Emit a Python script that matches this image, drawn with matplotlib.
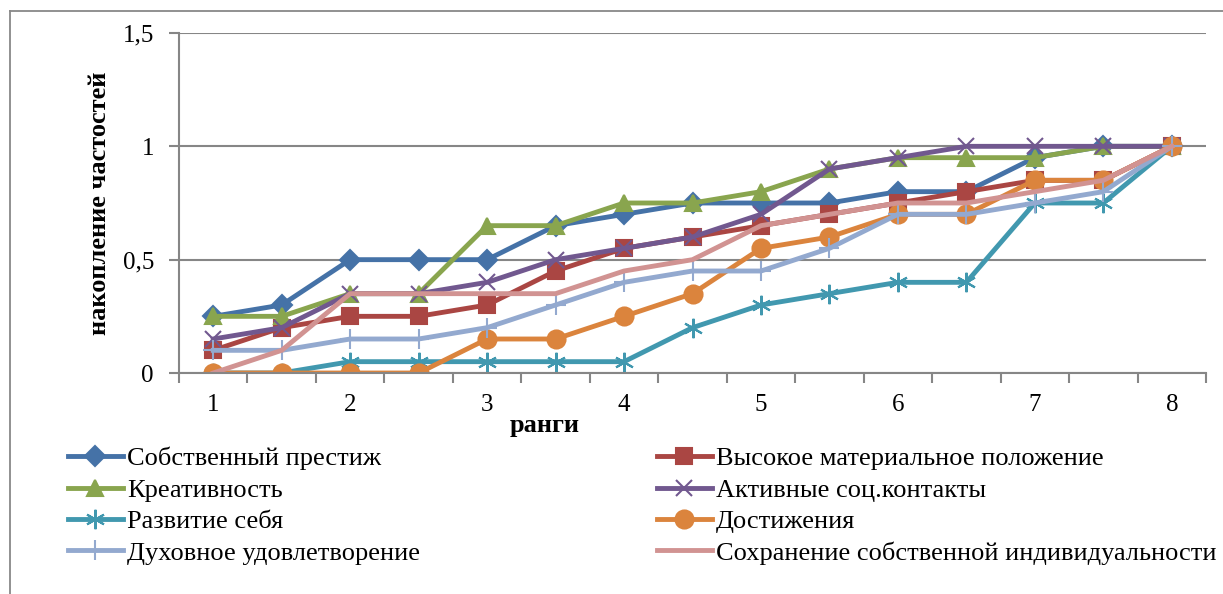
import matplotlib.pyplot as plt
from matplotlib.lines import Line2D

plt.rcParams['font.family'] = ['Liberation Serif', 'DejaVu Serif']

ranks = [1, 1.5, 2, 2.5, 3, 3.5, 4, 4.5, 5, 5.5, 6, 6.5, 7, 7.5, 8]

prestige = [0.25, 0.3, 0.5, 0.5, 0.5, 0.65, 0.7, 0.75, 0.75, 0.75, 0.8, 0.8, 0.95, 1.0, 1.0]
material = [0.1, 0.2, 0.25, 0.25, 0.3, 0.45, 0.55, 0.6, 0.65, 0.7, 0.75, 0.8, 0.85, 0.85, 1.0]
creativity = [0.25, 0.25, 0.35, 0.35, 0.65, 0.65, 0.75, 0.75, 0.8, 0.9, 0.95, 0.95, 0.95, 1.0, 1.0]
contacts = [0.15, 0.2, 0.35, 0.35, 0.4, 0.5, 0.55, 0.6, 0.7, 0.9, 0.95, 1.0, 1.0, 1.0, 1.0]
selfdev = [0.0, 0.0, 0.05, 0.05, 0.05, 0.05, 0.05, 0.2, 0.3, 0.35, 0.4, 0.4, 0.75, 0.75, 1.0]
achieve = [0.0, 0.0, 0.0, 0.0, 0.15, 0.15, 0.25, 0.35, 0.55, 0.6, 0.7, 0.7, 0.85, 0.85, 1.0]
spiritual = [0.1, 0.1, 0.15, 0.15, 0.2, 0.3, 0.4, 0.45, 0.45, 0.55, 0.7, 0.7, 0.75, 0.8, 1.0]
individ = [0.0, 0.1, 0.35, 0.35, 0.35, 0.35, 0.45, 0.5, 0.65, 0.7, 0.75, 0.75, 0.8, 0.85, 1.0]

names = ['Собственный престиж', 'Высокое материальное положение', 'Креативность',
         'Активные соц.контакты', 'Развитие себя', 'Достижения',
         'Духовное удовлетворение', 'Сохранение собственной индивидуальности']
series = [prestige, material, creativity, contacts, selfdev, achieve, spiritual, individ]
colors = ['#4572A7', '#AA4643', '#89A54E', '#71588F', '#4198AF', '#DB843D', '#93A9CF', '#D19392']
markers = ['D', 's', '^', 'x', (6, 2, 0), 'o', '+', 'None']
msizes = [10, 12, 12, 12, 14, 13, 14, 0]

fig = plt.figure(figsize=(12.23, 5.94), dpi=100)
ax = fig.add_axes([179 / 1223, 1 - 373 / 594, 1027 / 1223, 340 / 594])

handles = []
for vals, name, c, m, ms in zip(series, names, colors, markers, msizes):
    h, = ax.plot(ranks, vals, color=c, lw=3.5, marker=m, markersize=ms,
                 markeredgecolor=c, markeredgewidth=1.5, label=name)
    handles.append(h)

ax.set_xlim(0.75, 8.25)
ax.set_ylim(0, 1.5)
ax.set_yticks([0, 0.5, 1, 1.5])
ax.set_yticklabels(['0', '0,5', '1', '1,5'])
ax.set_xticks(range(1, 9))
ax.set_xticks([0.75 + 0.5 * i for i in range(16)], minor=True)
ax.tick_params(axis='x', which='major', length=0, labelsize=18, pad=15)
ax.tick_params(axis='x', which='minor', length=7, width=1.5, color='#868686', direction='out')
ax.tick_params(axis='y', length=7, width=1.5, color='#868686', labelsize=18, pad=11)
ax.yaxis.grid(True, color='#868686', lw=1.5)
ax.set_axisbelow(True)
for s in ['top', 'right']:
    ax.spines[s].set_visible(False)
for s in ['left', 'bottom']:
    ax.spines[s].set_color('#868686')
    ax.spines[s].set_linewidth(1.5)

ax.set_ylabel('накопление частостей', fontsize=19, fontweight='bold')
ax.yaxis.set_label_coords(-0.066, 0.5)
ax.set_xlabel('ранги', fontsize=19, fontweight='bold')
ax.xaxis.set_label_coords(0.356, -0.12)

# legend, two columns filled row by row
def leg_handle(h):
    return Line2D([], [], color=h.get_color(), lw=3.5, marker=h.get_marker(),
                  markersize=h.get_markersize(), markeredgecolor=h.get_color(),
                  markeredgewidth=1.5)

for col, x0 in [(0, 68 / 1223), (1, 657 / 1223)]:
    hs = [leg_handle(handles[i]) for i in range(col, 8, 2)]
    ls = [names[i] for i in range(col, 8, 2)]
    fig.legend(hs, ls, loc='upper left', bbox_to_anchor=(x0, 1 - 447 / 594),
               frameon=False, fontsize=19, handlelength=2.08, handletextpad=0.15,
               labelspacing=0.3, borderaxespad=0, borderpad=0)

# chart frame
fig.add_artist(Line2D([10 / 1223, 10 / 1223], [0, 1 - 11 / 594], color='#888888', lw=1.3,
                      transform=fig.transFigure))
fig.add_artist(Line2D([10 / 1223, 1], [1 - 11 / 594, 1 - 11 / 594], color='#888888', lw=1.3,
                      transform=fig.transFigure))

fig.savefig('out.png', dpi=100)
